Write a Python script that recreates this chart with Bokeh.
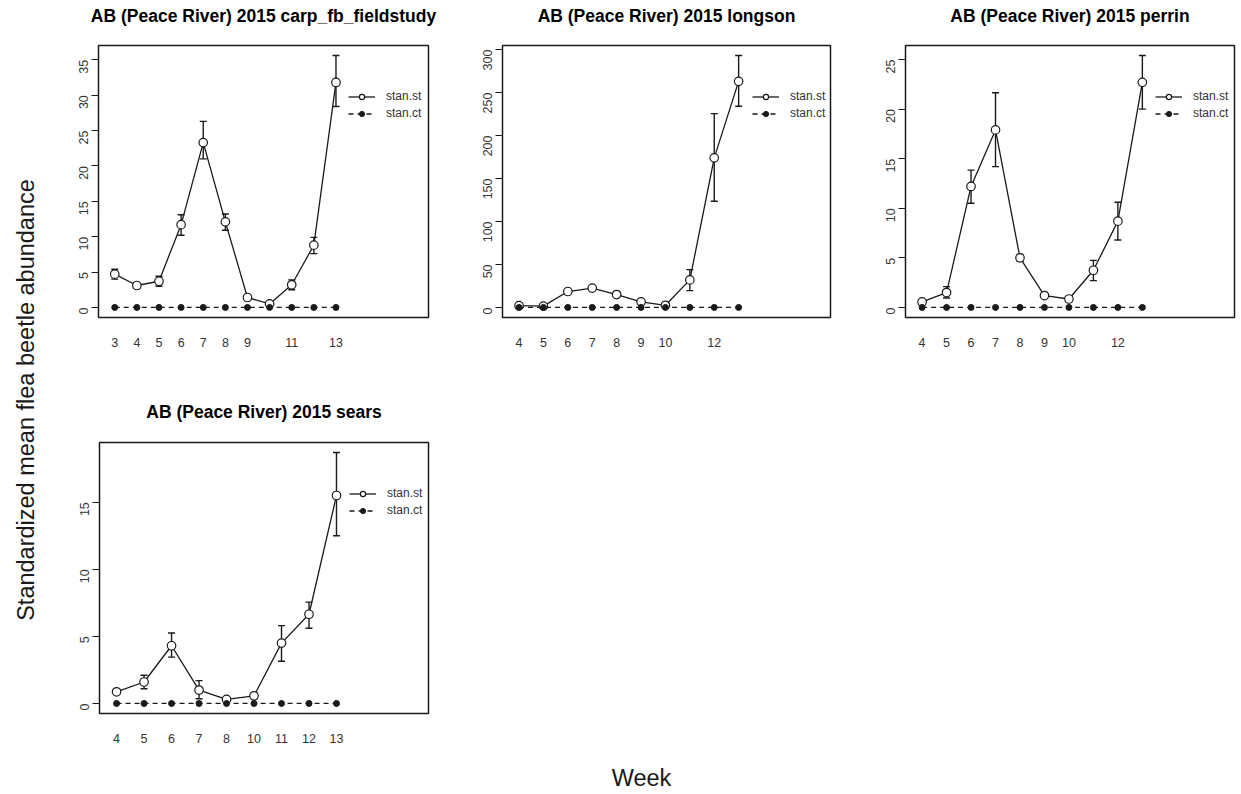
import math
from bokeh.plotting import figure
from bokeh.models import (Range1d, FixedTicker, Whisker, TeeHead, ColumnDataSource,
                          Legend, LegendItem, Label)
from bokeh.layouts import row, column
from bokeh.embed import file_html
from bokeh.resources import INLINE

FONT = "Liberation Sans"
INK = "#1a1a1a"

# ---------------- data ----------------
carp_title = "AB (Peace River) 2015 carp_fb_fieldstudy"
carp_weeks = [3, 4, 5, 6, 7, 8, 9, 10, 11, 12, 13]
carp_st = [4.7, 3.1, 3.7, 11.7, 23.3, 12.1, 1.4, 0.5, 3.2, 8.8, 31.8]
carp_st_upper = [5.4, 3.5, 4.4, 13.1, 26.3, 13.2, 1.5, 0.6, 3.9, 9.9, 35.6]
carp_st_lower = [4.0, 2.7, 3.0, 10.2, 21.0, 10.9, 1.3, 0.4, 2.5, 7.6, 28.4]
carp_ct = [0, 0, 0, 0, 0, 0, 0, 0, 0, 0, 0]
carp_xlabels = ["3", "4", "5", "6", "7", "8", "9", "11", "13"]
carp_yticks = [0, 5, 10, 15, 20, 25, 30, 35]

longson_title = "AB (Peace River) 2015 longson"
longson_weeks = [4, 5, 6, 7, 8, 9, 10, 11, 12, 13]
longson_st = [2.0, 1.5, 18.5, 22.5, 15.0, 6.5, 2.5, 32.0, 174.0, 263.0]
longson_st_upper = [2.5, 2.0, 19.5, 23.5, 16.0, 9.0, 3.0, 44.0, 225.5, 293.0]
longson_st_lower = [1.5, 1.0, 17.5, 21.5, 14.0, 4.0, 2.0, 19.5, 123.5, 234.0]
longson_ct = [0, 0, 0, 0, 0, 0, 0, 0, 0, 0]
longson_xlabels = ["4", "5", "6", "7", "8", "9", "10", "12"]
longson_yticks = [0, 50, 100, 150, 200, 250, 300]

perrin_title = "AB (Peace River) 2015 perrin"
perrin_weeks = [4, 5, 6, 7, 8, 9, 10, 11, 12, 13]
perrin_st = [0.55, 1.5, 12.2, 17.9, 5.0, 1.2, 0.85, 3.75, 8.7, 22.7]
perrin_st_upper = [0.6, 2.1, 13.85, 21.65, 5.35, 1.3, 1.05, 4.75, 10.6, 25.4]
perrin_st_lower = [0.5, 0.95, 10.5, 14.2, 4.65, 1.1, 0.65, 2.7, 6.8, 20.0]
perrin_ct = [0, 0, 0, 0, 0, 0, 0, 0, 0, 0]
perrin_xlabels = ["4", "5", "6", "7", "8", "9", "10", "12"]
perrin_yticks = [0, 5, 10, 15, 20, 25]

sears_title = "AB (Peace River) 2015 sears"
sears_weeks = [4, 5, 6, 7, 8, 10, 11, 12, 13]
sears_st = [0.87, 1.6, 4.3, 1.0, 0.3, 0.57, 4.5, 6.65, 15.5]
sears_st_upper = [0.9, 2.1, 5.25, 1.7, 0.35, 0.8, 5.8, 7.55, 18.7]
sears_st_lower = [0.85, 1.1, 3.45, 0.35, 0.25, 0.35, 3.15, 5.6, 12.5]
sears_ct = [0, 0, 0, 0, 0, 0, 0, 0, 0]
sears_xlabels = ["4", "5", "6", "7", "8", "10", "11", "12", "13"]
sears_yticks = [0, 5, 10, 15]

legend_labels = ["stan.st", "stan.ct"]
y_title = "Standardized mean flea beetle abundance"
x_title = "Week"


def panel(weeks, st, st_upper, st_lower, ct, xlabels, yticks,
          width, height, bl, br, bt, bb):
    n = len(weeks)
    idx = list(range(1, n + 1))
    lo0 = 1 - 0.2 * (n - 1) / n
    hi0 = n + 0.363 * (n - 1)
    xpad = 0.04 * (hi0 - lo0)
    ymax = max(st_upper + ct)
    ymin = min(st_lower + ct)
    ypad = 0.04 * (ymax - ymin)
    p = figure(width=width, height=height,
               x_range=Range1d(lo0 - xpad, hi0 + xpad),
               y_range=Range1d(ymin - ypad, ymax + ypad),
               output_backend="svg", toolbar_location=None,
               min_border_left=bl, min_border_right=br,
               min_border_top=bt, min_border_bottom=bb)
    fh = height - bt - bb

    p.xgrid.visible = False
    p.ygrid.visible = False
    p.background_fill_color = "white"
    p.border_fill_color = "white"
    p.outline_line_color = INK
    p.outline_line_width = 1.5
    p.outline_line_alpha = 1.0

    src = ColumnDataSource(dict(x=idx, y=st, upper=st_upper, lower=st_lower, ct=ct))
    w = Whisker(source=src, base="x", upper="upper", lower="lower",
                line_color=INK, line_width=1.4,
                upper_head=TeeHead(size=7, line_color=INK, line_width=1.4),
                lower_head=TeeHead(size=7, line_color=INK, line_width=1.4))
    p.add_layout(w)
    l1 = p.line("x", "y", source=src, line_color=INK, line_width=1.3)
    s1 = p.scatter("x", "y", source=src, marker="circle", size=8.5,
                   fill_color="white", line_color=INK, line_width=1.2)
    l2 = p.line("x", "ct", source=src, line_color=INK, line_width=1.3, line_dash="5 4")
    s2 = p.scatter("x", "ct", source=src, marker="circle", size=6,
                   fill_color=INK, line_color=INK, line_width=1)

    # axes
    wk = [str(v) for v in weeks]
    xt = [wk.index(lab) + 1 for lab in xlabels]
    p.xaxis.ticker = FixedTicker(ticks=xt)
    p.xaxis.major_label_overrides = {t: lab for t, lab in zip(xt, xlabels)}
    p.xaxis.axis_line_color = None
    p.xaxis.major_tick_line_color = None
    p.xaxis.minor_tick_line_color = None
    p.xaxis.major_tick_out = 0
    p.xaxis.major_tick_in = 0
    p.xaxis.major_label_standoff = 20

    p.yaxis.ticker = FixedTicker(ticks=yticks)
    p.yaxis.axis_line_color = None
    p.yaxis.minor_tick_line_color = None
    p.yaxis.major_tick_line_color = INK
    p.yaxis.major_tick_line_width = 1.2
    p.yaxis.major_tick_out = 7
    p.yaxis.major_tick_in = 0
    p.yaxis.major_label_orientation = math.pi / 2
    p.yaxis.major_label_standoff = 8
    for ax in (p.xaxis[0], p.yaxis[0]):
        ax.major_label_text_font = FONT
        ax.major_label_text_font_size = "12.5px"
        ax.major_label_text_color = "#333333"

    leg = Legend(items=[LegendItem(label=legend_labels[0], renderers=[l1, s1]),
                        LegendItem(label=legend_labels[1], renderers=[l2, s2])],
                 location=(250, fh - 75), orientation="vertical",
                 glyph_width=27, glyph_height=13, label_height=13,
                 spacing=3, padding=0, margin=0, label_standoff=11,
                 border_line_color=None, background_fill_alpha=0,
                 label_text_font=FONT, label_text_font_size="12px",
                 label_text_color="#333333")
    p.add_layout(leg)
    return p


def strip(w, h):
    f = figure(width=w, height=h, x_range=Range1d(0, w), y_range=Range1d(0, h),
               output_backend="svg", toolbar_location=None,
               x_axis_location=None, y_axis_location=None, min_border=0)
    f.xgrid.visible = False
    f.ygrid.visible = False
    f.outline_line_color = None
    f.background_fill_color = "white"
    f.border_fill_color = "white"
    return f


def title_strip(text, w, h, cx, cy):
    f = strip(w, h)
    f.add_layout(Label(x=cx, y=cy, text=text, text_align="center",
                       text_baseline="middle", text_font=FONT,
                       text_font_size="17.5px", text_font_style="bold",
                       text_color="black"))
    return f


# panel figures (widths / borders put each frame where the reference has it)
p1 = panel(carp_weeks, carp_st, carp_st_upper, carp_st_lower, carp_ct,
           carp_xlabels, carp_yticks, 415, 368, 45, 40, 15, 81)
p2 = panel(longson_weeks, longson_st, longson_st_upper, longson_st_lower,
           longson_ct, longson_xlabels, longson_yticks, 402, 368, 34, 40, 15, 81)
p3 = panel(perrin_weeks, perrin_st, perrin_st_upper, perrin_st_lower,
           perrin_ct, perrin_xlabels, perrin_yticks, 370, 368, 35, 6, 15, 81)
p4 = panel(sears_weeks, sears_st, sears_st_upper, sears_st_lower,
           sears_ct, sears_xlabels, sears_yticks, 415, 330, 46, 40, 14, 45)

t1 = title_strip(carp_title, 415, 30, 45 + 330 / 2, 15)
t2 = title_strip(longson_title, 402, 30, 34 + 328 / 2, 15)
t3 = title_strip(perrin_title, 370, 30, 35 + 329 / 2, 15)
t4 = title_strip(sears_title, 415, 30, 46 + 329 / 2, 16.3)

ylab = strip(53, 793)
ylab.add_layout(Label(x=25, y=393.5, text=y_title, angle=math.pi / 2,
                      text_align="center", text_baseline="middle",
                      text_font=FONT, text_font_size="23.5px", text_color=INK))

xlab = strip(1187, 35)
xlab.add_layout(Label(x=588, y=16, text=x_title, text_align="center",
                      text_baseline="middle", text_font=FONT,
                      text_font_size="23.5px", text_color=INK))

right = column(row(t1, t2, t3, spacing=0), row(p1, p2, p3, spacing=0),
               row(t4, spacing=0), row(p4, spacing=0), xlab, spacing=0)
layout = row(ylab, right, spacing=0)

open("out.html", "w").write(file_html(layout, INLINE))
